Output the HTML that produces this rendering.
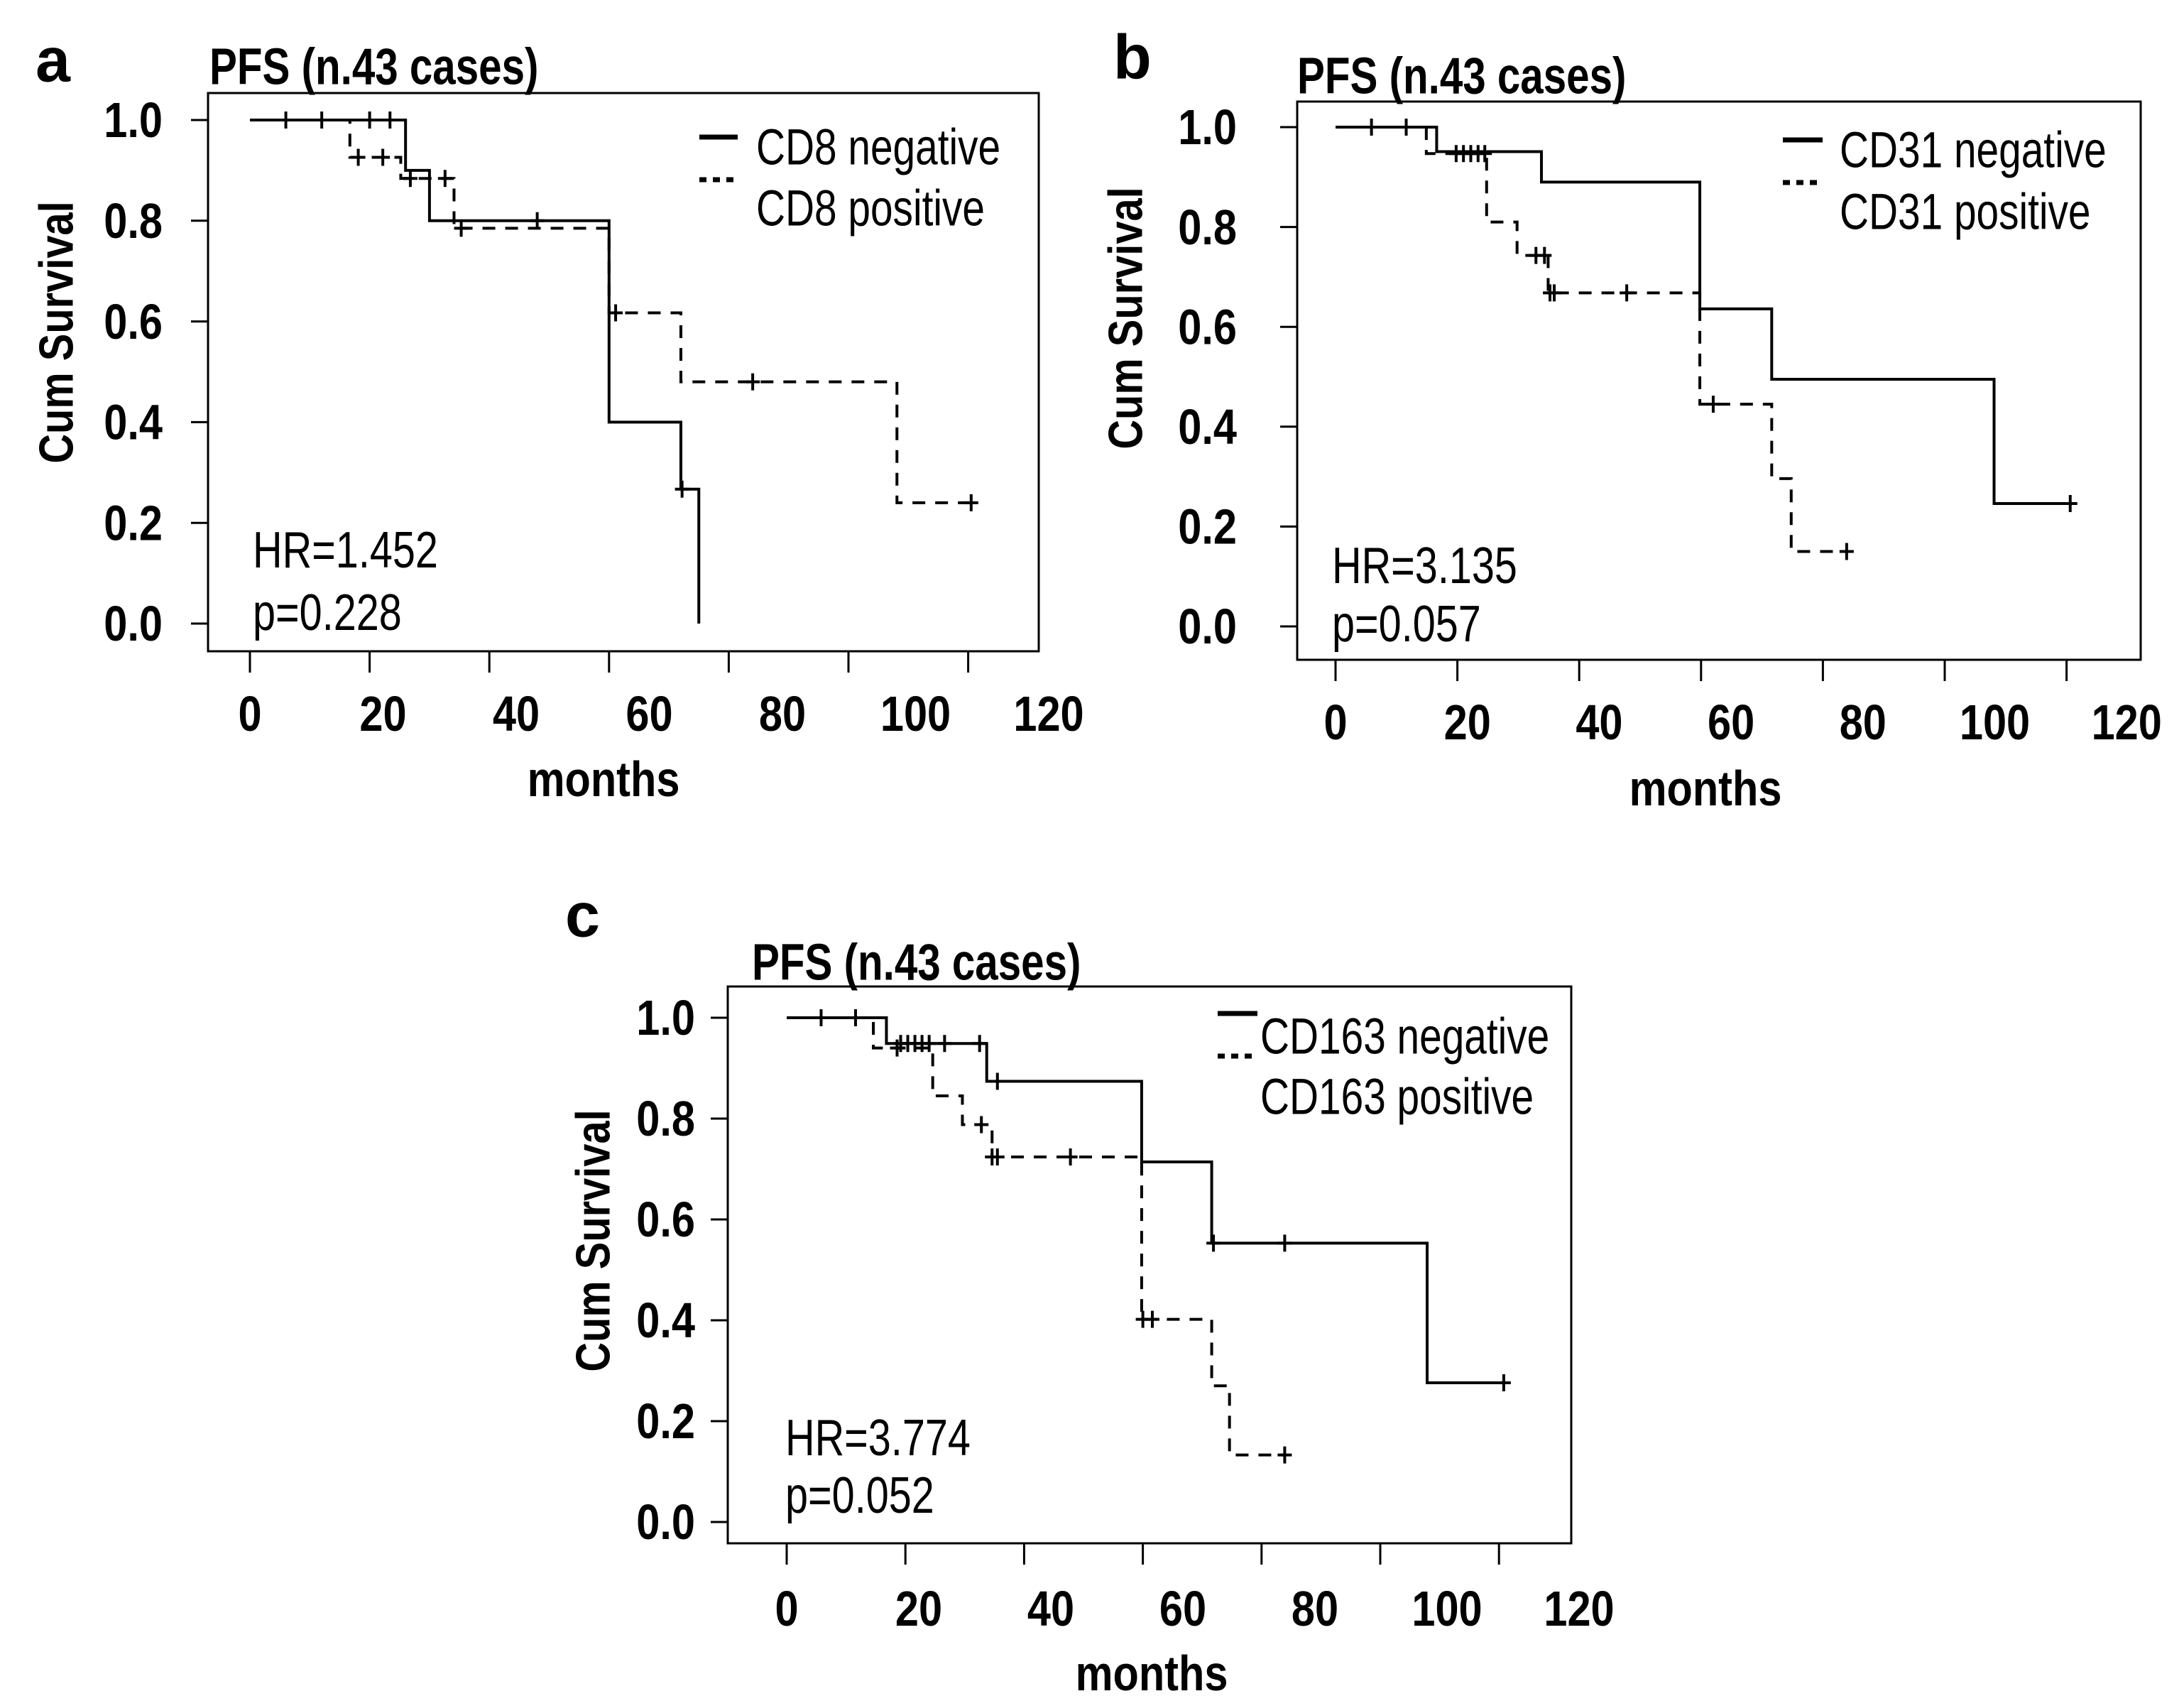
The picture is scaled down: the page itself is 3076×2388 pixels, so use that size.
<!DOCTYPE html>
<html><head><meta charset="utf-8"><style>
html,body{margin:0;padding:0;background:#fff;}
svg{display:block;font-family:"Liberation Sans",Arial,sans-serif;}
</style></head><body>
<svg id="fig" xmlns="http://www.w3.org/2000/svg" width="3076" height="2388" viewBox="0 0 3076 2388"></svg>
<script>
// ---- data: panel a (CD8)
const aNegTimes=[0,26,30,60,72,75];
const aNegSurv=[1,0.9,0.8,0.4,0.267,0];
const aNegEnd=75;
const aNegCens=[6,12,20,23.4,48,72.2];
const aPosTimes=[0,16.7,25.2,34.1,60,72,108.1];
const aPosSurv=[1,0.926,0.884,0.785,0.617,0.48,0.24];
const aPosEnd=120.5;
const aPosCens=[18.1,22.2,26.8,32.6,35.3,61.1,84,120.5];
// ---- panel b (CD31)
const bNegTimes=[0,16.6,33.8,59.8,71.6,108.1];
const bNegSurv=[1,0.951,0.89,0.636,0.495,0.246];
const bNegEnd=120.6;
const bNegCens=[5.9,11.6,120.6];
const bPosTimes=[0,14.9,24.8,29.8,34.9,59.8,71.6,74.8];
const bPosSurv=[1,0.947,0.81,0.743,0.668,0.445,0.296,0.15];
const bPosEnd=83.9;
const bPosCens=[19.8,21,22.2,23.4,24.5,32.9,34.3,35.2,35.9,47.8,62,83.9];
// ---- panel c (CD163)
const cNegTimes=[0,16.8,33.7,59.8,71.6,107.9];
const cNegSurv=[1,0.949,0.874,0.714,0.553,0.276];
const cNegEnd=120.8;
const cNegCens=[5.8,11.6,19.2,20.4,21.6,22.8,24,26.6,32.5,35.5,71.9,83.9,120.8];
const cPosTimes=[0,14.6,24.6,29.6,34.6,59.8,71.6,74.6];
const cPosSurv=[1,0.94,0.845,0.788,0.724,0.402,0.27,0.133];
const cPosEnd=83.9;
const cPosCens=[18.6,32.8,34.6,35.5,47.8,60,61.6,83.9];
// ---- axis ticks
const xTicks=[0,20,40,60,80,100,120];
const xTickLabels=["0","20","40","60","80","100","120"];
const yTicks=[0,0.2,0.4,0.6,0.8,1.0];
const yTickLabels=["0.0","0.2","0.4","0.6","0.8","1.0"];

const NS="http://www.w3.org/2000/svg";
const svg=document.getElementById('fig');
function el(tag,attrs,parent){const e=document.createElementNS(NS,tag);for(const k in attrs)e.setAttribute(k,attrs[k]);(parent||svg).appendChild(e);return e;}
function txt(parent,s,x,y,size,weight,sx,anchor,name,rot){
  const t=el('text',{x:0,y:0,'font-size':size,'font-weight':weight,'text-anchor':anchor||'start','dominant-baseline':'central',fill:'#000',
    transform:`translate(${x},${y})`+(rot?` rotate(${rot})`:'')+` scale(${sx},1)`},parent);
  t.textContent=s;
  
  
  return t;
}
function stepAt(times,surv,t){let v=surv[0];for(let i=0;i<times.length;i++){if(times[i]<=t)v=surv[i];}return v;}

function panel(P){
  const g=el('g',{});
  
  
  const X=m=>P.x0+m*P.px;
  const Y=v=>P.y0-v*P.py;
  const box=el('rect',{x:P.bl,y:P.bt,width:P.br-P.bl,height:P.bb-P.bt,fill:'none',stroke:'#000','stroke-width':3},g);
  
  
  yTicks.forEach((v,i)=>{
    const tk=el('line',{x1:P.bl-24,x2:P.bl,y1:Y(v),y2:Y(v),stroke:'#000','stroke-width':3},g);
    
    
    txt(g,yTickLabels[i],P.ylr,Y(v),70,'bold',0.85,'end','y-tick-label');
  });
  xTicks.forEach((m,i)=>{
    const tk=el('line',{x1:X(m),x2:X(m),y1:P.bb,y2:P.bb+30,stroke:'#000','stroke-width':3},g);
    
    
    txt(g,xTickLabels[i],P.lx0+i*P.lsp,P.xly,70,'bold',0.85,'middle','x-tick-label');
  });
  txt(g,'months',P.mx,P.my,70,'bold',0.85,'middle','x-axis-title');
  txt(g,'Cum Survival',P.ytx,P.yty,68,'bold',0.85,'middle','y-axis-title',-90);
  txt(g,'PFS (n.43 cases)',P.tx,P.ty,72,'bold',0.81,'start','chart-title');
  txt(g,P.letter,P.lx,P.ly,88,'bold',1,'start','panel-label');
  txt(g,P.hr,P.hx,P.hy,72,'normal',0.8,'start','hazard-ratio');
  txt(g,P.p,P.hx,P.py2,72,'normal',0.8,'start','p-value');
  const l1=el('line',{x1:P.lgx1,x2:P.lgx2,y1:P.lgy1,y2:P.lgy1,stroke:'#000','stroke-width':7},g);
  
  
  const l2=el('line',{x1:P.lgx1,x2:P.lgx2,y1:P.lgy2,y2:P.lgy2,stroke:'#000','stroke-width':7,'stroke-dasharray':'10 9'},g);
  
  
  txt(g,P.marker+' negative',P.ltx,P.lt1,71,'normal',0.8,'start','legend-entry-negative');
  txt(g,P.marker+' positive',P.ltx,P.lt2,71,'normal',0.8,'start','legend-entry-positive');
  [[P.negT,P.negS,P.negE,P.negC,'none','negative'],[P.posT,P.posS,P.posE,P.posC,'18 14','positive']].forEach(s=>{
    const [T,S,E,C,dash,nm]=s;
    let d=`M${X(T[0])},${Y(S[0])}`;
    for(let i=1;i<T.length;i++){d+=` H${X(T[i])} V${Y(S[i])}`;}
    if(E>T[T.length-1]) d+=` H${X(E)}`;
    const p=el('path',{d:d,fill:'none',stroke:'#000','stroke-width':4,'stroke-dasharray':dash},g);
    
    
    C.forEach(t=>{
      const v=stepAt(T,S,t), cx=X(t), cy=Y(v);
      const c=el('path',{d:`M${cx-10},${cy} H${cx+10} M${cx},${cy-12} V${cy+12}`,stroke:'#000','stroke-width':4,fill:'none'},g);
      
      
    });
  });
}

panel({id:'a',letter:'a',marker:'CD8',x0:352,px:8.43,y0:878,py:709,bl:293,bt:131,br:1463,bb:917,
  lx0:352,lsp:187.5,
  ylr:229,xly:1005,mx:850,my:1097,ytx:80,yty:468,tx:295,ty:94,lx:50,ly:84,
  hr:'HR=1.452',p:'p=0.228',hx:356,hy:774,py2:862,
  lgx1:985,lgx2:1039,lgy1:193,lgy2:253,ltx:1065,lt1:207,lt2:293,
  negT:aNegTimes,negS:aNegSurv,negE:aNegEnd,negC:aNegCens,posT:aPosTimes,posS:aPosSurv,posE:aPosEnd,posC:aPosCens});
panel({id:'b',letter:'b',marker:'CD31',x0:1881,px:8.58,y0:882,py:703,bl:1827,bt:143,br:3015,bb:929,
  lx0:1881,lsp:185.7,
  ylr:1742,xly:1017,mx:2402,my:1110,ytx:1586,yty:448,tx:1827,ty:107,lx:1568,ly:80,
  hr:'HR=3.135',p:'p=0.057',hx:1876,hy:796,py2:878,
  lgx1:2511,lgx2:2567,lgy1:197,lgy2:257,ltx:2591,lt1:211,lt2:298,
  negT:bNegTimes,negS:bNegSurv,negE:bNegEnd,negC:bNegCens,posT:bPosTimes,posS:bPosSurv,posE:bPosEnd,posC:bPosCens});
panel({id:'c',letter:'c',marker:'CD163',x0:1108,px:8.36,y0:2143,py:710,bl:1025,bt:1389,br:2213,bb:2173,
  lx0:1108,lsp:186,
  ylr:979,xly:2265,mx:1622,my:2356,ytx:836,yty:1747,tx:1059,ty:1355,lx:796,ly:1288,
  hr:'HR=3.774',p:'p=0.052',hx:1106,hy:2024,py2:2105,
  lgx1:1715,lgx2:1771,lgy1:1427,lgy2:1487,ltx:1775,lt1:1459,lt2:1544,
  negT:cNegTimes,negS:cNegSurv,negE:cNegEnd,negC:cNegCens,posT:cPosTimes,posS:cPosSurv,posE:cPosEnd,posC:cPosCens});
</script>
</body></html>
